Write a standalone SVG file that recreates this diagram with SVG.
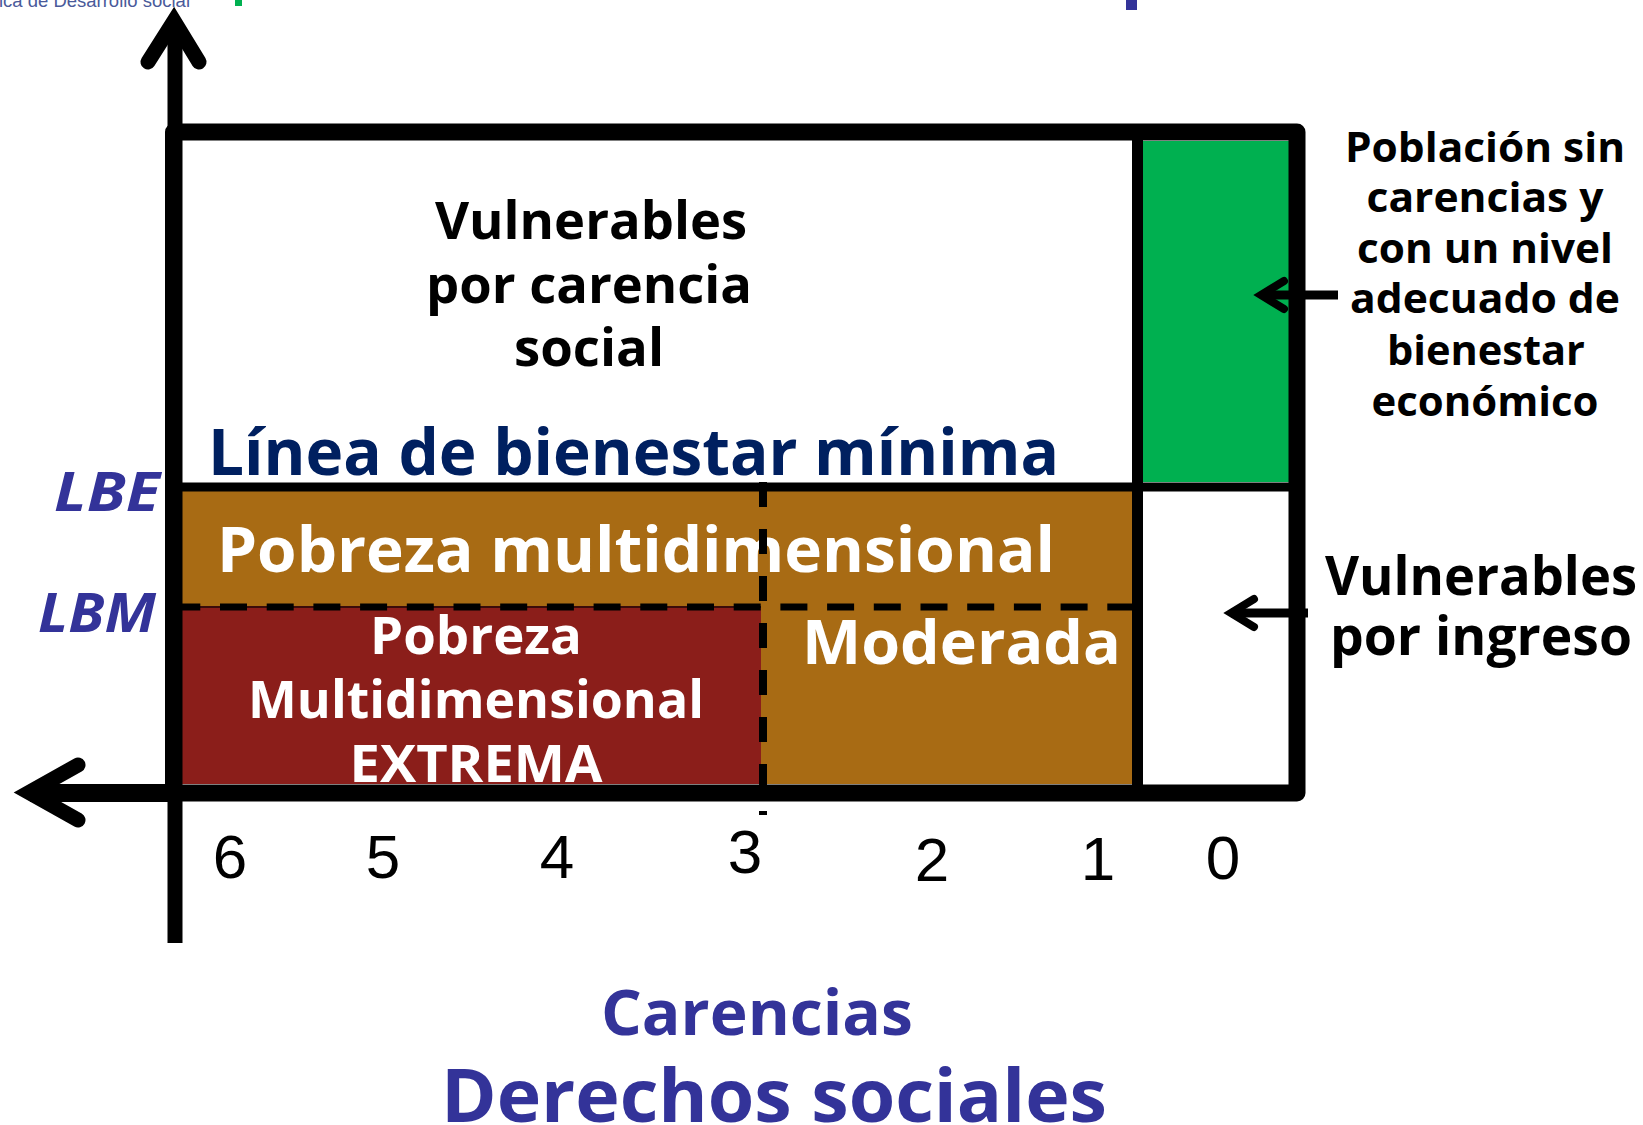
<svg xmlns="http://www.w3.org/2000/svg" width="1643" height="1125" viewBox="0 0 1643 1125">
<style>
.b{font-family:"Open Sans","DejaVu Sans",sans-serif;font-weight:bold}
.blk{fill:#000}
.wht{fill:#fff}
.mid{text-anchor:middle}
.num{font-family:"Liberation Sans",Arial,sans-serif;font-size:62px;fill:#000;text-anchor:middle}
.ax{fill:none;stroke:#000;stroke-linecap:round;stroke-linejoin:miter}
.dash{stroke:#000;stroke-width:7;fill:none}
</style>
<rect x="0" y="0" width="1643" height="1125" fill="#fff"/>
<g id="header">
<text x="-1" y="7" font-family="Liberation Sans,sans-serif" font-size="19" fill="#4a5a9a" textLength="191" lengthAdjust="spacingAndGlyphs">ica de Desarrollo social</text>
<rect x="235" y="0" width="7" height="6" fill="#00B050"/>
<rect x="1126" y="0" width="11" height="10" fill="#333399"/>
</g>
<g id="region-pobreza-moderada">
<rect x="182" y="491" width="950" height="293" fill="#A86B14"/>
</g>
<g id="region-pobreza-extrema">
<rect x="182" y="608" width="579" height="176" fill="#8B1E1A"/>
</g>
<g id="region-sin-carencias">
<rect x="1143" y="141" width="146" height="341" fill="#00B050"/>
</g>
<g id="lines">
<line x1="182" y1="607" x2="761" y2="607" stroke="#3a0c0a" stroke-width="2"/>
<line class="dash" x1="173.3" y1="607" x2="1132" y2="607" stroke-dasharray="27 19.7"/>
</g>
<g id="region-vulnerables-carencia">
<text class="b blk mid" x="591" y="239" font-size="52" textLength="312" lengthAdjust="spacingAndGlyphs">Vulnerables</text>
<text class="b blk mid" x="589" y="303" font-size="52" textLength="326" lengthAdjust="spacingAndGlyphs">por carencia</text>
<text class="b blk mid" x="589" y="366" font-size="52" textLength="150" lengthAdjust="spacingAndGlyphs">social</text>
</g>
<g id="linea-bienestar-minima">
<text class="b" x="208" y="475" font-size="64" fill="#002060" textLength="851" lengthAdjust="spacingAndGlyphs">Línea de bienestar mínima</text>
</g>
<g id="pobreza-multidimensional">
<text class="b wht" x="217" y="572" font-size="63" textLength="838" lengthAdjust="spacingAndGlyphs">Pobreza multidimensional</text>
</g>
<g id="pobreza-extrema-label">
<text class="b wht mid" x="476" y="654" font-size="52" textLength="212" lengthAdjust="spacingAndGlyphs">Pobreza</text>
<text class="b wht mid" x="476" y="718" font-size="52" textLength="456" lengthAdjust="spacingAndGlyphs">Multidimensional</text>
<text class="b wht mid" x="476" y="782" font-size="52" textLength="253" lengthAdjust="spacingAndGlyphs">EXTREMA</text>
</g>
<g id="moderada">
<text class="b wht" x="802" y="664" font-size="61" textLength="319" lengthAdjust="spacingAndGlyphs">Moderada</text>
</g>
<g id="frame">
<line x1="763" y1="482" x2="763" y2="815" stroke="#000" stroke-width="8" stroke-dasharray="25 22"/>
<line x1="182" y1="487" x2="1289" y2="487" stroke="#000" stroke-width="9"/>
<line x1="1137.5" y1="132" x2="1137.5" y2="793" stroke="#000" stroke-width="11"/>
<rect x="173.5" y="132" width="1123.5" height="661" fill="none" stroke="#000" stroke-width="17" stroke-linejoin="round"/>
</g>
<g id="axes">
<line x1="175" y1="22" x2="175" y2="943" stroke="#000" stroke-width="15"/>
<polyline class="ax" stroke-width="15" points="148,62 174,21 199,62"/>
<line x1="30" y1="793" x2="175" y2="793" stroke="#000" stroke-width="18"/>
<polyline class="ax" stroke-width="15" points="78,765 29,792.5 78,820"/>
</g>
<g id="lbe">
<text class="b" x="54" y="511" font-size="53" font-style="italic" fill="#333399" textLength="106" lengthAdjust="spacingAndGlyphs">LBE</text>
</g>
<g id="lbm">
<text class="b" x="38" y="632" font-size="53" font-style="italic" fill="#333399" textLength="118" lengthAdjust="spacingAndGlyphs">LBM</text>
</g>
<g id="poblacion-label">
<text class="b blk mid" x="1485" y="162" font-size="41" textLength="280" lengthAdjust="spacingAndGlyphs">Población sin</text>
<text class="b blk mid" x="1485" y="212" font-size="41" textLength="237" lengthAdjust="spacingAndGlyphs">carencias y</text>
<text class="b blk mid" x="1485" y="263" font-size="41" textLength="256" lengthAdjust="spacingAndGlyphs">con un nivel</text>
<text class="b blk mid" x="1485" y="313" font-size="41" textLength="270" lengthAdjust="spacingAndGlyphs">adecuado de</text>
<text class="b blk mid" x="1486" y="365" font-size="41" textLength="198" lengthAdjust="spacingAndGlyphs">bienestar</text>
<text class="b blk mid" x="1485" y="416" font-size="41" textLength="227" lengthAdjust="spacingAndGlyphs">económico</text>
</g>
<g id="vulnerables-ingreso-label">
<text class="b blk" x="1325" y="595" font-size="53" textLength="312" lengthAdjust="spacingAndGlyphs">Vulnerables</text>
<text class="b blk" x="1330" y="655" font-size="53" textLength="302" lengthAdjust="spacingAndGlyphs">por ingreso</text>
</g>
<g id="scale">
<text class="num" x="230" y="878">6</text>
<text class="num" x="383" y="878">5</text>
<text class="num" x="557" y="878">4</text>
<text class="num" x="745" y="873">3</text>
<text class="num" x="932" y="881">2</text>
<text class="num" x="1098" y="880">1</text>
<text class="num" x="1223" y="879">0</text>
</g>
<g id="axis-title">
<text class="b" x="601" y="1035" font-size="63" fill="#333399" textLength="312" lengthAdjust="spacingAndGlyphs">Carencias</text>
<text class="b" x="441" y="1122" font-size="74" fill="#333399" textLength="666" lengthAdjust="spacingAndGlyphs">Derechos sociales</text>
</g>
<g id="connectors">
<line x1="1262" y1="295" x2="1338" y2="295" stroke="#000" stroke-width="9"/>
<polyline class="ax" stroke-width="8" points="1284,281 1261,295 1284,309"/>
<line x1="1231" y1="613" x2="1308" y2="613" stroke="#000" stroke-width="9"/>
<polyline class="ax" stroke-width="8" points="1254,599 1231,613 1254,627"/>
</g>
</svg>
